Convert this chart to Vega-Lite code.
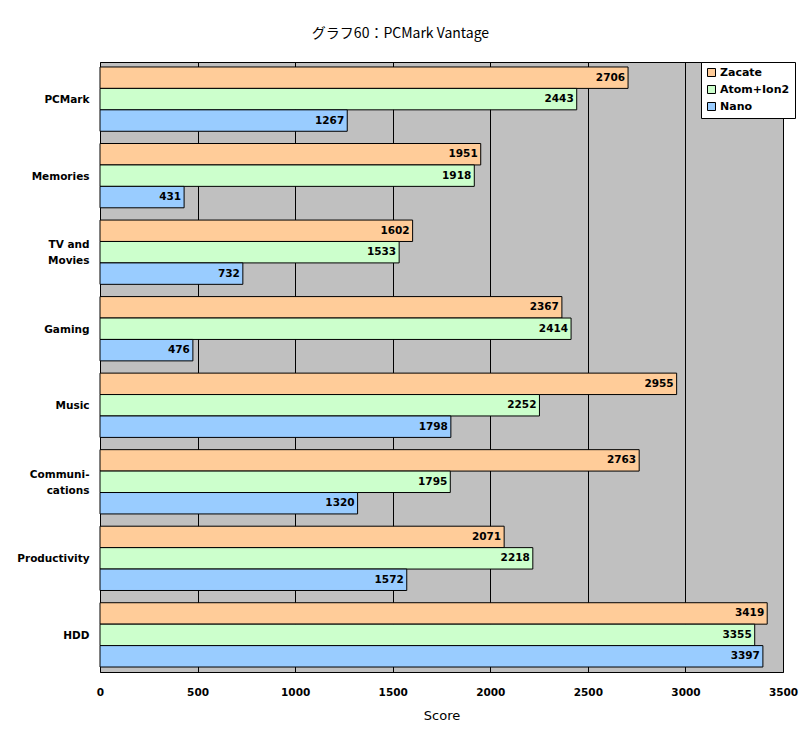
{
  "$schema": "https://vega.github.io/schema/vega-lite/v6.json",
  "width": 683,
  "height": 610,
  "autosize": {"type": "none"},
  "padding": {"left": 100, "top": 62, "right": 21, "bottom": 64},
  "background": "white",
  "title": {
    "text": "グラフ60：PCMark Vantage",
    "font": "Noto Sans CJK JP",
    "fontSize": 14,
    "fontWeight": "normal",
    "color": "black",
    "anchor": "middle",
    "dx": -41,
    "offset": 21
  },
  "config": {
    "view": {"fill": "#C0C0C0", "stroke": "black", "strokeWidth": 1},
    "axis": {"labelFont": "DejaVu Sans", "labelFontWeight": "bold", "labelFontSize": 10.5, "labelColor": "black", "domain": false, "ticks": false},
    "legend": {"labelFont": "DejaVu Sans", "labelFontWeight": "bold", "labelFontSize": 10.5, "labelColor": "black"}
  },
  "data": {
    "values": [
      {"cat": "PCMark", "series": "Zacate", "value": 2706},
      {"cat": "PCMark", "series": "Atom+Ion2", "value": 2443},
      {"cat": "PCMark", "series": "Nano", "value": 1267},
      {"cat": "Memories", "series": "Zacate", "value": 1951},
      {"cat": "Memories", "series": "Atom+Ion2", "value": 1918},
      {"cat": "Memories", "series": "Nano", "value": 431},
      {"cat": "TV and Movies", "series": "Zacate", "value": 1602},
      {"cat": "TV and Movies", "series": "Atom+Ion2", "value": 1533},
      {"cat": "TV and Movies", "series": "Nano", "value": 732},
      {"cat": "Gaming", "series": "Zacate", "value": 2367},
      {"cat": "Gaming", "series": "Atom+Ion2", "value": 2414},
      {"cat": "Gaming", "series": "Nano", "value": 476},
      {"cat": "Music", "series": "Zacate", "value": 2955},
      {"cat": "Music", "series": "Atom+Ion2", "value": 2252},
      {"cat": "Music", "series": "Nano", "value": 1798},
      {"cat": "Communications", "series": "Zacate", "value": 2763},
      {"cat": "Communications", "series": "Atom+Ion2", "value": 1795},
      {"cat": "Communications", "series": "Nano", "value": 1320},
      {"cat": "Productivity", "series": "Zacate", "value": 2071},
      {"cat": "Productivity", "series": "Atom+Ion2", "value": 2218},
      {"cat": "Productivity", "series": "Nano", "value": 1572},
      {"cat": "HDD", "series": "Zacate", "value": 3419},
      {"cat": "HDD", "series": "Atom+Ion2", "value": 3355},
      {"cat": "HDD", "series": "Nano", "value": 3397}
    ]
  },
  "encoding": {
    "y": {
      "field": "cat",
      "type": "nominal",
      "sort": null,
      "scale": {"paddingInner": 0.16, "paddingOuter": 0.065},
      "axis": {
        "title": null,
        "labelPadding": 11,
        "labelExpr": "datum.value == 'TV and Movies' ? ['TV and', 'Movies'] : datum.value == 'Communications' ? ['Communi-', 'cations'] : datum.value",
        "labelLineHeight": 16,
        "labelOffset": {"condition": {"test": "datum.value == 'TV and Movies' || datum.value == 'Communications'", "value": -7}, "value": 1}
      }
    },
    "yOffset": {
      "field": "series",
      "type": "nominal",
      "sort": ["Zacate", "Atom+Ion2", "Nano"],
      "scale": {"paddingInner": 0, "paddingOuter": 0}
    },
    "x": {
      "field": "value",
      "type": "quantitative",
      "scale": {"domain": [0, 3500], "nice": false},
      "axis": {
        "title": "Score",
        "titleFont": "DejaVu Sans",
        "titleFontSize": 13,
        "titleFontWeight": "normal",
        "titleColor": "black",
        "titlePadding": 12,
        "format": "d",
        "values": [0, 500, 1000, 1500, 2000, 2500, 3000, 3500],
        "grid": true,
        "gridColor": "black",
        "gridOpacity": 1,
        "gridWidth": 1,
        "labelPadding": 15,
        "labelFlush": false
      }
    }
  },
  "layer": [
    {
      "mark": {"type": "bar", "stroke": "black", "strokeWidth": 1},
      "encoding": {
        "fill": {
          "field": "series",
          "type": "nominal",
          "sort": ["Zacate", "Atom+Ion2", "Nano"],
          "scale": {"domain": ["Zacate", "Atom+Ion2", "Nano"], "range": ["#FFCC99", "#CCFFCC", "#99CCFF"]},
          "legend": {
            "title": null,
            "orient": "none",
            "legendX": 601,
            "legendY": 0,
            "fillColor": "white",
            "strokeColor": "black",
            "padding": 5,
            "symbolType": "square",
            "symbolSize": 64,
            "symbolStrokeColor": "black",
            "symbolStrokeWidth": 1,
            "labelOffset": 3,
            "labelFontSize": 11,
            "rowPadding": 4
          }
        }
      }
    },
    {
      "mark": {"type": "text", "align": "right", "dx": -3, "font": "DejaVu Sans", "fontWeight": "bold", "fontSize": 10.5, "color": "black", "baseline": "middle"},
      "encoding": {
        "text": {"field": "value", "type": "quantitative"}
      }
    }
  ]
}
